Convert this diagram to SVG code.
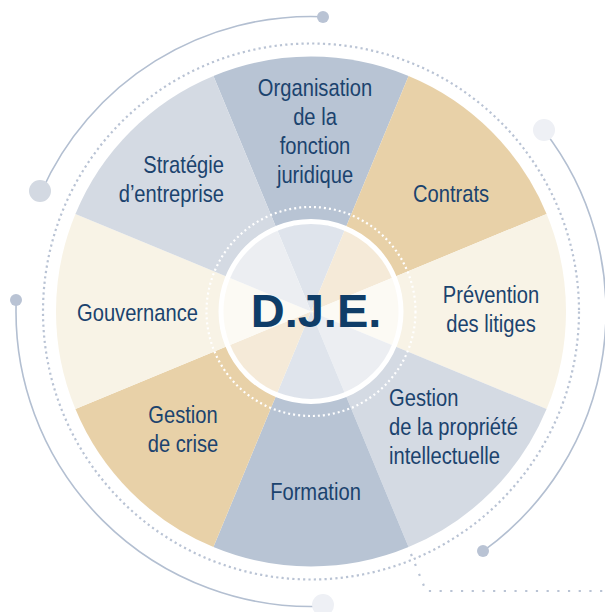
<svg xmlns="http://www.w3.org/2000/svg" width="605" height="612" viewBox="0 0 605 612">
<style>
.lbl{font-family:"Liberation Sans",Arial,sans-serif;font-size:24px;fill:#1b436e;text-anchor:middle}
.c1{fill:#b8c4d4}.c2{fill:#e8d1a8}.c3{fill:#f8f3e6}.c4{fill:#d4dae3}
.arc{fill:none;stroke:#b3bfd1;stroke-width:1.6}
.dots{fill:none;stroke:#b9c3d4;stroke-width:2.2;stroke-dasharray:2.2 3.2}
.sm{fill:#b9c3d4}
</style>
<rect width="605" height="612" fill="#ffffff"/>
<g id="decoration">
<path class="arc" d="M322.84 16.74 A295 295 0 0 0 41.5 191.51"/>
<path class="arc" d="M543.78 130.28 A295 295 0 0 1 483.14 551.06"/>
<path class="arc" d="M16.22 300.17 A295 295 0 0 0 323.04 606.26"/>
<circle class="dots" cx="311" cy="311.5" r="268"/>
<path fill="none" stroke="#b9c3d4" stroke-width="2.2" stroke-dasharray="2.2 8.5" d="M411 554 L426 591 L605 591"/>
<circle class="sm" cx="323" cy="17" r="6"/>
<circle cx="40" cy="191" r="11" fill="#d3d9e2"/>
<circle class="sm" cx="16" cy="300" r="6"/>
<circle cx="544" cy="130" r="11" fill="#eef0f5"/>
<circle class="sm" cx="483" cy="551" r="6"/>
<circle cx="323" cy="605" r="11" fill="#eef0f5"/>
</g>
<g id="organisation">
<path class="c1" d="M311 311.5 L213.42 75.91 A255 255 0 0 1 408.58 75.91 Z"/>
<text class="lbl" transform="translate(315 0) scale(0.84 1)"><tspan x="0" y="96">Organisation</tspan><tspan x="0" y="125">de la</tspan><tspan x="0" y="154">fonction</tspan><tspan x="0" y="183">juridique</tspan></text>
</g>
<g id="contrats">
<path class="c2" d="M311 311.5 L408.58 75.91 A255 255 0 0 1 546.59 213.92 Z"/>
<text class="lbl" transform="translate(451 0) scale(0.84 1)" x="0" y="202">Contrats</text>
</g>
<g id="prevention">
<path class="c3" d="M311 311.5 L546.59 213.92 A255 255 0 0 1 546.59 409.08 Z"/>
<text class="lbl" transform="translate(491 0) scale(0.84 1)"><tspan x="0" y="303">Prévention</tspan><tspan x="0" y="332">des litiges</tspan></text>
</g>
<g id="propriete">
<path class="c4" d="M311 311.5 L546.59 409.08 A255 255 0 0 1 408.58 547.09 Z"/>
<text class="lbl" style="text-anchor:start" transform="translate(389 0) scale(0.84 1)"><tspan x="0" y="406">Gestion</tspan><tspan x="0" y="435">de la propriété</tspan><tspan x="0" y="464">intellectuelle</tspan></text>
</g>
<g id="formation">
<path class="c1" d="M311 311.5 L408.58 547.09 A255 255 0 0 1 213.42 547.09 Z"/>
<text class="lbl" transform="translate(315.5 0) scale(0.84 1)" x="0" y="500">Formation</text>
</g>
<g id="crise">
<path class="c2" d="M311 311.5 L213.42 547.09 A255 255 0 0 1 75.41 409.08 Z"/>
<text class="lbl" transform="translate(183 0) scale(0.84 1)"><tspan x="0" y="423">Gestion</tspan><tspan x="0" y="452">de crise</tspan></text>
</g>
<g id="gouvernance">
<path class="c3" d="M311 311.5 L75.41 409.08 A255 255 0 0 1 75.41 213.92 Z"/>
<text class="lbl" transform="translate(137.5 0) scale(0.84 1)" x="0" y="321">Gouvernance</text>
</g>
<g id="strategie">
<path class="c4" d="M311 311.5 L75.41 213.92 A255 255 0 0 1 213.42 75.91 Z"/>
<text class="lbl" style="text-anchor:end" transform="translate(224 0) scale(0.84 1)"><tspan x="0" y="173">Stratégie</tspan><tspan x="0" y="202">d’entreprise</tspan></text>
</g>
<g id="dje">
<circle cx="311" cy="311.5" r="88" fill="#ffffff" fill-opacity="0.55"/>
<circle cx="311" cy="311.5" r="90" fill="none" stroke="#ffffff" stroke-width="5"/>
<circle cx="311" cy="311.5" r="104.5" fill="none" stroke="#ffffff" stroke-width="2.2" stroke-dasharray="2 3"/>
<text x="316" y="327" font-family="'Liberation Sans',Arial,sans-serif" font-weight="bold" font-size="47" fill="#0f3d68" text-anchor="middle">D.J.E.</text>
</g>
</svg>
